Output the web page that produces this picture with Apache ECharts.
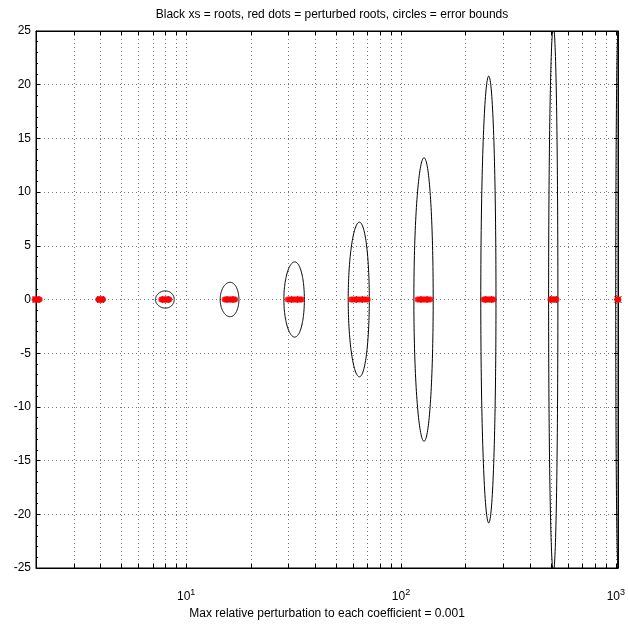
<!DOCTYPE html>
<html>
<head>
<meta charset="utf-8">
<script src="https://cdn.jsdelivr.net/npm/echarts@6/dist/echarts.min.js"></script>
<style>
html, body { margin: 0; padding: 0; background: #fff; }
#main { width: 628px; height: 625px; }
</style>
</head>
<body>
<div id="main"></div>
<script>
// roots (powers of two)
var roots = [2, 4, 8, 16, 32, 64, 128, 256, 512, 1024];
// error bound radius for each root
var bounds = [0.04, 0.2, 0.8, 1.6, 3.5, 7.2, 13.2, 20.8, 25.4, 25];
// perturbed roots (real parts) around each root
var perturbed = [
    [1.97, 1.99, 2.0, 2.02, 2.04, 2.06, 2.08],
    [3.9, 3.93, 3.96, 3.99, 4.01, 4.04, 4.07, 4.1],
    [7.66, 7.74, 7.83, 7.91, 7.98, 8.06, 8.14, 8.22, 8.3, 8.35],
    [15.1, 15.3, 15.5, 15.75, 15.95, 16.15, 16.35, 16.55, 16.75, 16.9],
    [29.7, 30.2, 30.8, 31.4, 31.9, 32.4, 32.9, 33.5, 34.0, 34.5],
    [58.5, 59.6, 60.9, 62.2, 63.4, 64.6, 65.9, 67.2, 68.6, 70.0],
    [119.4, 121.5, 123.6, 125.8, 127.7, 129.9, 132.1, 134.4, 137.0],
    [242.6, 245.5, 248.6, 251.9, 255.2, 258.7, 262.3, 266.1, 270.0],
    [496, 501, 506, 511, 516, 522, 529],
    [1015, 1020, 1024, 1027]
];
// grid / tick positions of the log axis
var xGridTicks = [2, 3, 4, 5, 6, 7, 8, 9, 10, 20, 30, 40, 50, 60, 70, 80, 90,
    100, 200, 300, 400, 500, 600, 700, 800, 900, 1000];
var xLabelTicks = [10, 100, 1000];

var font = 'Liberation Sans, Arial, sans-serif';

var rootData = [];
for (var i = 0; i < roots.length; i++) {
    rootData.push([roots[i], 0]);
}
var circleData = [];
for (var i = 0; i < roots.length; i++) {
    circleData.push([roots[i], bounds[i]]);
}
var dotData = [];
for (var i = 0; i < perturbed.length; i++) {
    for (var j = 0; j < perturbed[i].length; j++) {
        dotData.push([perturbed[i][j], 0]);
    }
}

var myChart = echarts.init(document.getElementById('main'));

var option = {
    animation: false,
    backgroundColor: '#fff',
    title: {
        text: 'Black xs = roots, red dots = perturbed roots, circles = error bounds',
        left: 327,
        textAlign: 'center',
        top: 4,
        textStyle: { fontFamily: font, fontSize: 12, fontWeight: 'normal', color: '#000' }
    },
    grid: {
        left: 36, top: 31, right: 9, bottom: 52,
        show: true, borderColor: '#000', borderWidth: 1
    },
    xAxis: [{
        type: 'log',
        logBase: 10,
        min: 2,
        max: 1024,
        name: 'Max relative perturbation to each coefficient = 0.001',
        nameLocation: 'middle',
        nameGap: 40,
        nameTextStyle: { fontFamily: font, fontSize: 12, color: '#000' },
        axisLine: { show: true, onZero: false, lineStyle: { color: '#000' } },
        axisTick: { inside: true, length: 4, customValues: xGridTicks, lineStyle: { color: '#000' } },
        axisLabel: {
            customValues: xLabelTicks,
            margin: 20,
            formatter: function(v) {
                return '{b|10}{s|' + Math.round(Math.log10(v)) + '}';
            },
            rich: {
                b: { fontFamily: font, fontSize: 12, color: '#000', lineHeight: 12, padding: [6, 0, 0, 0] },
                s: { fontFamily: font, fontSize: 9, color: '#000', lineHeight: 9, verticalAlign: 'top' }
            }
        },
        splitLine: { show: true, lineStyle: { color: '#777', type: [1, 3], width: 1 } }
    }, {
        type: 'log',
        logBase: 10,
        min: 2,
        max: 1024,
        position: 'top',
        axisLine: { show: true, onZero: false, lineStyle: { color: '#000' } },
        axisTick: { inside: true, length: 4, customValues: xGridTicks, lineStyle: { color: '#000' } },
        axisLabel: { show: false },
        splitLine: { show: false }
    }],
    yAxis: [{
        type: 'value',
        min: -25,
        max: 25,
        interval: 5,
        axisLine: { show: true, onZero: false, lineStyle: { color: '#000' } },
        axisTick: { inside: true, length: 4, lineStyle: { color: '#000' } },
        minorTick: { show: true, splitNumber: 5, length: 2, lineStyle: { color: '#000' } },
        axisLabel: { margin: 5, fontFamily: font, fontSize: 12, color: '#000' },
        splitLine: { show: true, lineStyle: { color: '#777', type: [1, 3], width: 1 } }
    }, {
        type: 'value',
        min: -25,
        max: 25,
        interval: 5,
        position: 'right',
        axisLine: { show: true, onZero: false, lineStyle: { color: '#000' } },
        axisTick: { inside: true, length: 4, lineStyle: { color: '#000' } },
        axisLabel: { show: false },
        splitLine: { show: false }
    }],
    series: [{
        // error bound circles
        type: 'custom',
        clip: true,
        silent: true,
        data: circleData,
        renderItem: function(params, api) {
            var c = api.value(0);
            var r = api.value(1);
            var pts = [];
            for (var k = 0; k <= 160; k++) {
                var t = k / 160 * Math.PI * 2;
                pts.push(api.coord([c + r * Math.cos(t), r * Math.sin(t)]));
            }
            return {
                type: 'polyline',
                shape: { points: pts },
                style: { stroke: '#000', fill: 'none', lineWidth: 1 }
            };
        }
    }, {
        // roots
        type: 'scatter',
        clip: false,
        silent: true,
        symbol: 'path://M0,0L10,10M10,0L0,10',
        symbolSize: 7,
        itemStyle: { color: 'transparent', borderColor: '#000', borderWidth: 1 },
        data: rootData,
        z: 3
    }, {
        // perturbed roots
        type: 'scatter',
        clip: false,
        silent: true,
        symbol: 'circle',
        symbolSize: 6,
        itemStyle: { color: '#ff0000' },
        data: dotData,
        z: 4
    }]
};

myChart.setOption(option);
</script>
</body>
</html>
